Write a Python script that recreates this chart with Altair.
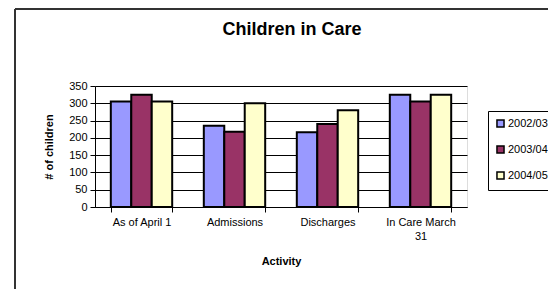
import altair as alt
import pandas as pd

categories = ["As of April 1", "Admissions", "Discharges", "In Care March 31"]
series = ["2002/03", "2003/04", "2004/05"]
v_2002 = [305, 235, 216, 325]
v_2003 = [325, 218, 240, 305]
v_2004 = [305, 300, 280, 325]
colors = ["#9999FF", "#993366", "#FFFFCC"]
y_ticks = [0, 50, 100, 150, 200, 250, 300, 350]
chart_title = "Children in Care"

rows = []
for s, vals in zip(series, [v_2002, v_2003, v_2004]):
    for c, v in zip(categories, vals):
        rows.append({"Activity": c, "Year": s, "Value": v})
df = pd.DataFrame(rows)
title_df = pd.DataFrame({"t": [chart_title]})

FONT = "Liberation Sans"

bars = alt.Chart(df).mark_bar(stroke="black", strokeWidth=2).encode(
    x=alt.X("Activity:N", sort=categories,
            scale=alt.Scale(paddingInner=0.34, paddingOuter=0.17),
            axis=alt.Axis(title="Activity", labelAngle=0, tickBand="extent",
                          labelExpr="datum.label == 'In Care March 31' ? ['In Care March', '31'] : datum.label",
                          labelFont=FONT, labelFontSize=11, labelColor="black",
                          titleFont=FONT, titleFontSize=11, titleFontWeight="bold",
                          titleColor="black", titlePadding=14, labelPadding=4,
                          domainColor="black", tickColor="black", tickSize=5,
                          grid=False, labelLineHeight=14)),
    xOffset=alt.XOffset("Year:N", sort=series, scale=alt.Scale(paddingInner=0, paddingOuter=0)),
    y=alt.Y("Value:Q", scale=alt.Scale(domain=[0, 350], nice=False),
            axis=alt.Axis(title="# of children", values=y_ticks,
                          labelFont=FONT, labelFontSize=11, labelColor="black",
                          titleFont=FONT, titleFontSize=11, titleFontWeight="bold",
                          titleColor="black", titlePadding=14, labelPadding=3,
                          domainColor="black", tickColor="black", tickSize=5,
                          grid=True, gridColor="black", gridWidth=1)),
    color=alt.Color("Year:N", sort=series,
                    scale=alt.Scale(domain=series, range=colors),
                    legend=alt.Legend(title=None, orient="none", legendX=393, legendY=25,
                                      strokeColor="black", padding=7, rowPadding=11,
                                      symbolType="square", symbolSize=50,
                                      symbolStrokeColor="black", symbolStrokeWidth=1.5,
                                      symbolOpacity=1,
                                      labelFont=FONT, labelFontSize=11, labelColor="black",
                                      labelOffset=2)),
)

title_mark = alt.Chart(title_df).mark_text(
    font=FONT, fontSize=18, fontWeight="bold", color="black",
    align="center", baseline="alphabetic"
).encode(x=alt.value(197), y=alt.value(-51), text="t:N")

border_left = alt.Chart(df).mark_rule(color="#333333", strokeWidth=2).encode(
    x=alt.value(-80), y=alt.value(-77), y2=alt.value(205)
)
border_top = alt.Chart(df).mark_rule(color="#333333", strokeWidth=2).encode(
    x=alt.value(-80), x2=alt.value(470), y=alt.value(-77)
)

chart = alt.layer(bars, title_mark, border_left, border_top).properties(
    width=372, height=121,
    autosize=alt.AutoSizeParams(type="none"),
    padding={"left": 87, "top": 78, "right": 81, "bottom": 82},
).configure_view(fill="#C0C0C0", stroke="#808080", strokeWidth=1).configure(background="white")

chart.save("out.html", embed_options={"renderer": "svg", "actions": False})
